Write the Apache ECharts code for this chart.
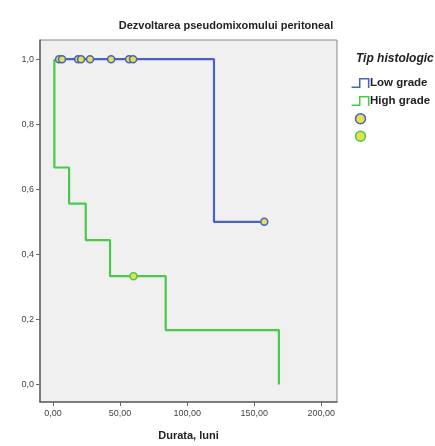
<!DOCTYPE html>
<html><head><meta charset="utf-8">
<script src="https://cdn.jsdelivr.net/npm/echarts@6/dist/echarts.min.js"></script>
<style>html,body{margin:0;padding:0;background:#fff}#c{width:435px;height:446px}</style>
</head><body><div id="c"></div>
<script>
// Kaplan-Meier estimates
var lowTimes = [1.5, 120, 157.5];
var lowSurv = [1, 0.5, 0.5];
var lowCensorTimes = [4.5, 6.7, 18.7, 20.9, 27.6, 43.3, 56.7, 59.7, 157.5];
var lowCensorSurv = [1, 1, 1, 1, 1, 1, 1, 1, 0.5];
var highTimes = [1, 1, 12, 24.4, 42.5, 84, 168.4];
var highSurv = [1, 0.667, 0.556, 0.444, 0.333, 0.167, 0];
var highCensorTimes = [60];
var highCensorSurv = [0.333];
var xTicks = [0, 50, 100, 150, 200];
var xTickLabels = ['0,00', '50,00', '100,00', '150,00', '200,00'];
var yTicks = [0, 0.2, 0.4, 0.6, 0.8, 1.0];
var yTickLabels = ['0,0', '0,2', '0,4', '0,6', '0,8', '1,0'];
var seriesNames = ['Low grade', 'High grade'];

function zip(a, b) { return a.map(function (v, i) { return [v, b[i]]; }); }

var BLUE = '#4a62c2', GREEN = '#4cc84c', YELLOW = '#e6e04a';
var stepIcon = 'path://M0,8 L7,8 L7,0 L17,0 L17,9.5 L15.5,9.5 L15.5,1.5 L8.5,1.5 L8.5,9.5 L0,9.5 Z';
var font = 'Liberation Sans, Arial, sans-serif';

var chart = echarts.init(document.getElementById('c'), null, {renderer: 'canvas'});
chart.setOption({
  animation: false,
  title: [
    {text: 'Dezvoltarea pseudomixomului peritoneal', left: 221, top: 15, textAlign: 'center',
     textStyle: {fontFamily: font, fontSize: 11, fontWeight: 'bold', color: '#222'}},
    {text: 'Tip histologic', left: 351, top: 48,
     textStyle: {fontFamily: font, fontSize: 12, fontStyle: 'italic', fontWeight: 'bold', color: '#222'}}
  ],
  legend: {
    orient: 'vertical', left: 346, top: 72, itemGap: 6, itemWidth: 19, itemHeight: 10,
    textStyle: {fontFamily: font, fontSize: 11.5, fontWeight: 'bold', color: '#222', padding: [0,0,0,-5]},
    formatter: function (n) { return seriesNames.indexOf(n) >= 0 ? n : ''; },
    data: [
      {name: seriesNames[0], icon: stepIcon, itemStyle: {color: BLUE}},
      {name: seriesNames[1], icon: stepIcon, itemStyle: {color: GREEN}},
      {name: 'c1', icon: 'circle', itemStyle: {color: YELLOW, borderColor: BLUE, borderWidth: 1.5}},
      {name: 'c2', icon: 'circle', itemStyle: {color: YELLOW, borderColor: GREEN, borderWidth: 1.5}}
    ]
  },
  grid: {left: 40, right: 98, top: 40, bottom: 41, show: true, backgroundColor: '#f0f0f0',
         borderColor: '#888', borderWidth: 1},
  xAxis: {
    type: 'value', min: -9.7, max: 211.7,
    name: 'Durata, luni', nameLocation: 'middle', nameGap: 28,
    nameTextStyle: {fontFamily: font, fontSize: 11, fontWeight: 'bold', color: '#222'},
    splitLine: {show: false},
    axisLine: {show: true, onZero: false, lineStyle: {color: '#666', width: 1.5}},
    axisTick: {show: true, length: 4, customValues: xTicks, lineStyle: {color: '#666'}},
    axisLabel: {customValues: xTicks, margin: 7, fontFamily: font, fontSize: 9, color: '#444',
      formatter: function (v) { var i = xTicks.indexOf(v); return i >= 0 ? xTickLabels[i] : ''; }}
  },
  yAxis: {
    type: 'value', min: -0.054, max: 1.059,
    splitLine: {show: false},
    axisLine: {show: true, onZero: false, lineStyle: {color: '#666', width: 1.5}},
    axisTick: {show: true, length: 4, customValues: yTicks, lineStyle: {color: '#666'}},
    axisLabel: {customValues: yTicks, margin: 6, fontFamily: font, fontSize: 9, color: '#444',
      formatter: function (v) { var i = -1; yTicks.forEach(function (t, k) { if (Math.abs(t - v) < 1e-6) i = k; }); return i >= 0 ? yTickLabels[i] : ''; }}
  },
  series: [
    {name: seriesNames[0], type: 'line', step: 'end', data: zip(lowTimes, lowSurv), color: BLUE,
     showSymbol: false, lineStyle: {color: BLUE, width: 2.2}, z: 2},
    {name: seriesNames[1], type: 'line', step: 'end', data: zip(highTimes, highSurv), color: GREEN,
     showSymbol: false, lineStyle: {color: GREEN, width: 2.2}, z: 3},
    {name: 'c1', type: 'scatter', data: zip(lowCensorTimes, lowCensorSurv), symbolSize: 7,
     itemStyle: {color: YELLOW, borderColor: BLUE, borderWidth: 1.5, opacity: 1}, z: 4},
    {name: 'c2', type: 'scatter', data: zip(highCensorTimes, highCensorSurv), symbolSize: 7,
     itemStyle: {color: YELLOW, borderColor: GREEN, borderWidth: 1.5, opacity: 1}, z: 4}
  ]
});
</script></body></html>
